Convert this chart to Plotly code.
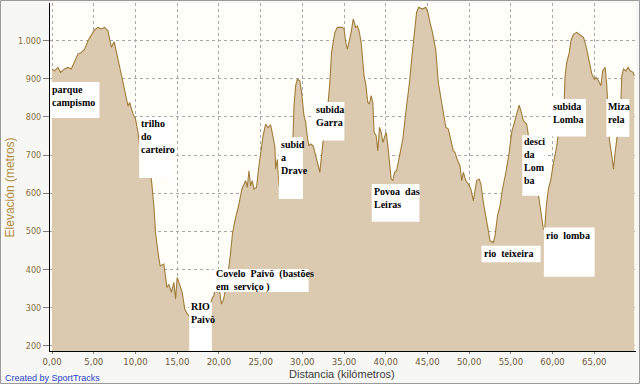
import plotly.graph_objects as go

# ---------------- data ----------------
distance_km = [0, 0.3, 0.7, 1.0, 1.5, 1.9, 2.3, 2.7, 3.1, 3.5, 3.9, 4.3, 4.7, 5.1, 5.5, 5.9, 6.3, 6.7,
               7.1, 7.45, 7.9, 8.3, 8.7, 9.1, 9.3, 9.7, 10.0, 10.3, 10.5, 10.9, 11.4, 11.9, 12.2, 12.4,
               12.75, 12.96, 13.4, 13.56, 13.76, 14.0, 14.3, 14.6, 14.8, 15.0, 15.2, 15.6, 15.9, 16.2,
               16.45, 17.0, 18.0, 18.8, 19.2, 19.4, 19.56, 19.76, 19.96, 20.3, 20.56, 20.96, 21.36,
               21.64, 21.96, 22.36, 22.76, 23.2, 23.4, 23.6, 23.8, 24.0, 24.2, 24.5, 24.8, 25.0, 25.3,
               25.6, 25.9, 26.2, 26.4, 26.7, 26.8, 27.0, 27.2, 27.6, 28.3, 28.7, 28.9, 29.0, 29.2, 29.4,
               29.7, 29.9, 30.2, 30.4, 30.6, 30.8, 31.0, 31.3, 31.6, 31.9, 32.1, 32.3, 32.5, 33.1, 33.3,
               33.5, 33.7, 33.9, 34.2, 34.8, 35.0, 35.2, 35.4, 35.6, 35.85, 36.1, 36.4, 36.6, 36.8,
               37.05, 37.25, 37.4, 37.6, 37.85, 38.05, 38.25, 38.45, 38.6, 38.85, 39.05, 39.25, 39.45,
               39.65, 39.85, 40.05, 40.25, 40.45, 40.65, 40.85, 41.05, 41.3, 41.65, 42.05, 42.45,
               42.85, 43.15, 43.45, 43.7, 43.95, 44.4, 44.8, 45.05, 45.3, 45.6, 46.0, 46.3, 46.7,
               46.95, 47.2, 47.5, 47.75, 48.1, 48.3, 48.55, 48.9, 49.1, 49.3, 49.6, 49.9, 50.2, 50.5,
               50.7, 50.9, 51.2, 51.4, 51.7, 52.0, 52.3, 52.5, 52.9, 53.1, 53.4, 53.7, 54.0, 54.4,
               54.8, 55.1, 55.4, 55.7, 56.0, 56.3, 56.5, 56.7, 56.9, 57.1, 57.6, 58.0, 58.3, 58.5,
               58.7, 58.9, 59.05, 59.25, 59.5, 59.8, 60.05, 60.3, 60.5, 60.7, 61.4, 61.5, 61.7, 62.0,
               62.2, 62.5, 62.9, 63.3, 63.7, 64.0, 64.3, 64.7, 65.0, 65.2, 65.5, 65.8, 66.0, 66.3,
               66.5, 66.8, 67.1, 67.3, 67.5, 67.7, 68.2, 68.3, 68.5, 68.8, 69.05, 69.3, 69.65, 69.8]

elevation_m = [926, 921, 930, 917, 926, 930, 926, 948, 965, 969, 978, 1000, 1013, 1029, 1035, 1031, 1035, 1026,
               983, 997, 952, 908, 865, 829, 838, 808, 795, 760, 724, 700, 665, 637, 567, 497,
               436, 409, 414, 383, 353, 361, 340, 366, 322, 379, 366, 340, 296, 283,
               278, 265, 262, 295, 325, 331, 357, 340, 361, 309, 322, 366, 436,
               497, 532, 567, 611, 633, 615, 659, 619, 633, 611, 615, 672, 707, 751,
               781, 772, 779, 760, 724, 663, 689, 620, 605, 610, 680, 760, 829, 882, 899,
               895, 865, 803, 786, 746, 724, 729, 724, 698, 672, 655, 698, 738, 839, 891,
               969, 1000, 1022, 1035, 1035, 1031, 996, 978, 996, 1022, 1057, 1035, 1039, 1026,
               996, 943, 908, 886, 838, 834, 856, 838, 760, 751, 711, 773, 760,
               733, 746, 760, 724, 672, 637, 633, 655, 659, 698, 742, 821,
               891, 961, 1022, 1075, 1088, 1083, 1088, 1075, 1048, 1022, 975, 891, 838,
               803, 773, 768, 742, 711, 707, 689, 672, 633, 655, 633, 624, 611, 580,
               602, 633, 637, 624, 576, 532, 501, 475, 471, 488, 541, 567, 611, 655,
               707, 760, 786, 808, 831, 808, 790, 786, 781, 751, 700, 640, 593, 558,
               532, 506, 505, 567, 611, 637, 672, 698, 724, 760, 847, 908, 943, 969,
               1000, 1017, 1022, 1015, 1009, 987, 952, 913, 899, 904, 895, 882, 921, 930,
               882, 742, 698, 663, 707, 742, 847, 908, 926, 921, 930, 921, 917, 908]

x_tick_values = [0, 5, 10, 15, 20, 25, 30, 35, 40, 45, 50, 55, 60, 65]
x_tick_labels = ["0,00", "5,00", "10,00", "15,00", "20,00", "25,00", "30,00", "35,00",
                 "40,00", "45,00", "50,00", "55,00", "60,00", "65,00"]
y_tick_values = [200, 300, 400, 500, 600, 700, 800, 900, 1000]
y_tick_labels = ["200", "300", "400", "500", "600", "700", "800", "900", "1.000"]

# place-name labels (text) and their white boxes (x0, x1 in km; y0, y1 in metres)
label_texts = ["parque<br>campismo", "trilho<br>do<br>carteiro", "RIO<br>Paivô",
               "Covelo  Paivô  (bastões<br>em  serviço )", "subid<br>a<br>Drave", "subida<br>Garra",
               "Povoa  das<br>Leiras", "rio  teixeira", "desci<br>da<br>Lom<br>ba", "rio  lomba",
               "subida<br>Lomba", "Miza<br>rela"]
label_boxes = [(-0.25, 5.68, 797, 892), (10.44, 14.52, 640, 800), (16.44, 19.16, 186, 314),
               (19.36, 30.76, 341, 401), (27.18, 30.08, 585, 747), (31.36, 35.04, 738, 839),
               (38.32, 44.04, 525, 624), (51.48, 58.56, 419, 462), (56.37, 59.04, 593, 752),
               (58.96, 65.04, 381, 510), (59.8, 64.0, 749, 847), (66.45, 69.2, 748, 847)]
label_yshift = [0, 1, 3, 3, 0, 0, 0, 0, 1, 0, 0, 0]

# ---------------- figure ----------------
W, H = 640, 384
ML, MR, MT, MB = 50, 4, 3, 33
X_RANGE = [-0.25, 70.0]
Y_RANGE = [186, 1099]

fig = go.Figure()
fig.add_trace(go.Scatter(
    x=distance_km, y=elevation_m, mode="lines",
    line=dict(color="#a07c3a", width=1.1),
    fill="tozeroy", fillcolor="#dccab0",
    hoverinfo="skip", showlegend=False))

shapes = []
annotations = []
for text, (x0, x1, y0, y1), ys in zip(label_texts, label_boxes, label_yshift):
    shapes.append(dict(type="rect", xref="x", yref="y", x0=x0, x1=x1, y0=y0, y1=y1,
                       fillcolor="white", line=dict(width=0), layer="above"))
    annotations.append(dict(x=x0, y=y1, xref="x", yref="y", text=text, showarrow=False,
                            xanchor="left", yanchor="top", align="left", yshift=ys,
                            font=dict(family="Liberation Serif", size=10, color="black",
                                      weight="bold")))

pw = W - ML - MR
ph = H - MT - MB
# outer frame of the picture
shapes.append(dict(type="rect", xref="paper", yref="paper",
                   x0=(0.5 - ML) / pw, x1=(W - 0.5 - ML) / pw,
                   y0=-(MB - 0.5) / ph, y1=(H - MB - 0.5) / ph,
                   line=dict(color="#9a9a9a", width=1), fillcolor="rgba(0,0,0,0)", layer="above"))

annotations.append(dict(x=(10 - ML) / pw, y=0.47, xref="paper", yref="paper",
                        text="Elevación (metros)", textangle=-90, showarrow=False,
                        xanchor="center", yanchor="middle",
                        font=dict(family="Liberation Sans", size=12, color="#b08a3c")))
annotations.append(dict(x=(342 - ML) / pw, y=-(373.5 - (H - MB)) / ph, xref="paper", yref="paper",
                        text="Distancia (kilómetros)", showarrow=False,
                        xanchor="center", yanchor="middle",
                        font=dict(family="Liberation Sans", size=11, color="#3c3c3c")))
annotations.append(dict(x=(3 - ML) / pw, y=-(377.5 - (H - MB)) / ph, xref="paper", yref="paper",
                        text="Created by SportTracks", showarrow=False,
                        xanchor="left", yanchor="middle",
                        font=dict(family="Liberation Sans", size=9, color="#2b3fc8")))

fig.update_layout(
    width=W, height=H,
    margin=dict(l=ML, r=MR, t=MT, b=MB, pad=0),
    paper_bgcolor="#f7f7f5",
    plot_bgcolor="#fffef9",
    shapes=shapes,
    annotations=annotations,
    showlegend=False,
    xaxis=dict(range=X_RANGE, tickmode="array", tickvals=x_tick_values, ticktext=x_tick_labels,
               showgrid=True, gridcolor="#a8a8a8", griddash="dot", gridwidth=1,
               showline=True, linecolor="black", linewidth=1, ticks="outside", ticklen=2,
               tickcolor="#808080",
               tickfont=dict(family="DejaVu Sans Condensed, Liberation Sans Narrow, Liberation Sans",
                             size=9.5, color="#6e5a3a"),
               zeroline=False, fixedrange=True, automargin=False),
    yaxis=dict(range=Y_RANGE, tickmode="array", tickvals=y_tick_values, ticktext=y_tick_labels,
               showgrid=True, gridcolor="#a8a8a8", griddash="dot", gridwidth=1,
               showline=True, linecolor="black", linewidth=1, ticks="outside", ticklen=6,
               tickcolor="#808080",
               tickfont=dict(family="DejaVu Sans Condensed, Liberation Sans Narrow, Liberation Sans",
                             size=9, color="#8a6e3a"),
               zeroline=False, fixedrange=True, automargin=False),
)

fig.write_html("out.html", config={"displayModeBar": False},
               post_script="document.body.style.margin='0';document.body.style.overflow='hidden';")
